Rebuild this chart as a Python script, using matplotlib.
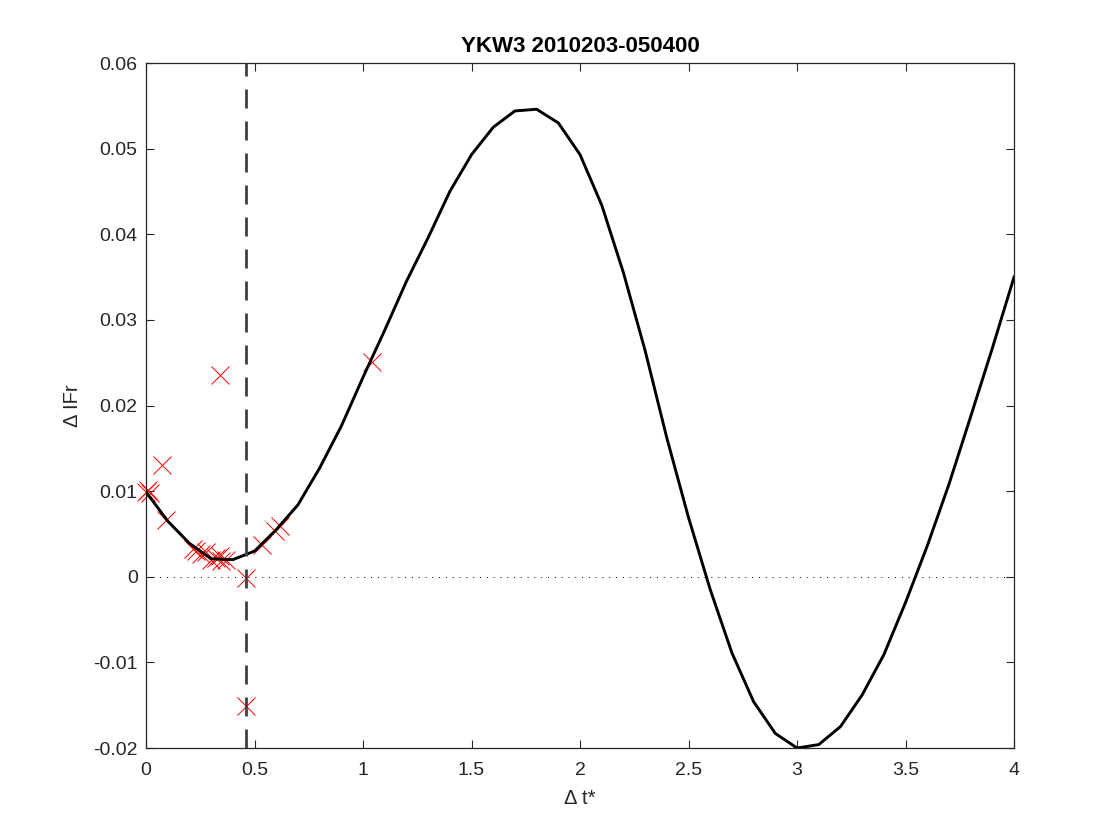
import numpy as np
import matplotlib
matplotlib.use("Agg")
import matplotlib.pyplot as plt

# Curve (model) values sampled every 0.1 in delta t*
curve_x = [0.0, 0.1, 0.2, 0.3, 0.4, 0.5, 0.6, 0.7, 0.8, 0.9,
           1.0, 1.1, 1.2, 1.3, 1.4, 1.5, 1.6, 1.7, 1.8, 1.9,
           2.0, 2.1, 2.2, 2.3, 2.4, 2.5, 2.6, 2.7, 2.8, 2.9,
           3.0, 3.1, 3.2, 3.3, 3.4, 3.5, 3.6, 3.7, 3.8, 3.9, 4.0]
curve_y = [0.0099, 0.0065, 0.0039, 0.0021, 0.0020, 0.0030, 0.0055, 0.0084, 0.0127, 0.0176,
           0.0233, 0.0288, 0.0345, 0.0396, 0.0450, 0.0493, 0.0525, 0.0544, 0.0546, 0.0530,
           0.0493, 0.0434, 0.0355, 0.0264, 0.0162, 0.0069, -0.0015, -0.0089, -0.0146, -0.0183,
           -0.0200, -0.0196, -0.0175, -0.0138, -0.0091, -0.0030, 0.0036, 0.0108, 0.0187, 0.0267, 0.0350]

# Observed points
obs_x = [0.000, 0.010, 0.020, 0.073, 0.094, 0.217, 0.232, 0.255, 0.278,
         0.301, 0.324, 0.340, 0.347, 0.370, 0.341, 0.461, 0.461,
         0.536, 0.593, 0.616, 1.040]
obs_y = [0.0099, 0.0101, 0.0098, 0.0131, 0.0066, 0.0033, 0.0030, 0.0027, 0.0029,
         0.0020, 0.0022, 0.0024, 0.0018, 0.0020, 0.0236, -0.0002, -0.0151,
         0.0037, 0.0054, 0.0059, 0.0251]

best_dt = 0.461

x_ticks = [0, 0.5, 1, 1.5, 2, 2.5, 3, 3.5, 4]
x_labels = ["0", "0.5", "1", "1.5", "2", "2.5", "3", "3.5", "4"]
y_ticks = [-0.02, -0.01, 0, 0.01, 0.02, 0.03, 0.04, 0.05, 0.06]
y_labels = ["-0.02", "-0.01", "0", "0.01", "0.02", "0.03", "0.04", "0.05", "0.06"]

title = "YKW3 2010203-050400"
xlabel = "\u0394 t*"
ylabel = "\u0394 IFr"

plt.rcParams['font.family'] = ['Liberation Sans', 'DejaVu Sans']
ink = '#262626'

fig = plt.figure(figsize=(11.2, 8.4), dpi=100)
ax = fig.add_axes([0.1304, 0.1095, 0.775, 0.8155])

ax.plot([0, 4], [0, 0], linestyle=(0, (1, 6)), color='black', linewidth=0.7, zorder=1)
ax.plot(obs_x, obs_y, linestyle='none', marker='x', color='red',
        markersize=12.5, markeredgewidth=0.7, clip_on=False, zorder=2)
ax.plot(curve_x, curve_y, color='black', linewidth=2.1, zorder=3)
ax.axvline(best_dt, color='#404040', linewidth=2.0, linestyle=(0, (6.84, 4.68)), zorder=4)

ax.set_xlim(0, 4)
ax.set_ylim(-0.02, 0.06)
ax.set_xticks(x_ticks)
ax.set_xticklabels(x_labels)
ax.set_yticks(y_ticks)
ax.set_yticklabels(y_labels)

ax.tick_params(direction='in', length=6, width=0.8, colors=ink, labelsize=14,
               top=True, right=True)
ax.tick_params(axis='x', pad=10)
ax.tick_params(axis='y', pad=6)
for s in ax.spines.values():
    s.set_color(ink)
    s.set_linewidth(0.9)

ax.set_title(title, fontsize=16, fontweight='bold', color='black', pad=8)
ax.set_xlabel(xlabel, fontsize=14.5, color=ink, labelpad=7)
ax.set_ylabel(ylabel, fontsize=14.5, color=ink, labelpad=8)

fig.savefig("out.png", dpi=100, facecolor='white')
